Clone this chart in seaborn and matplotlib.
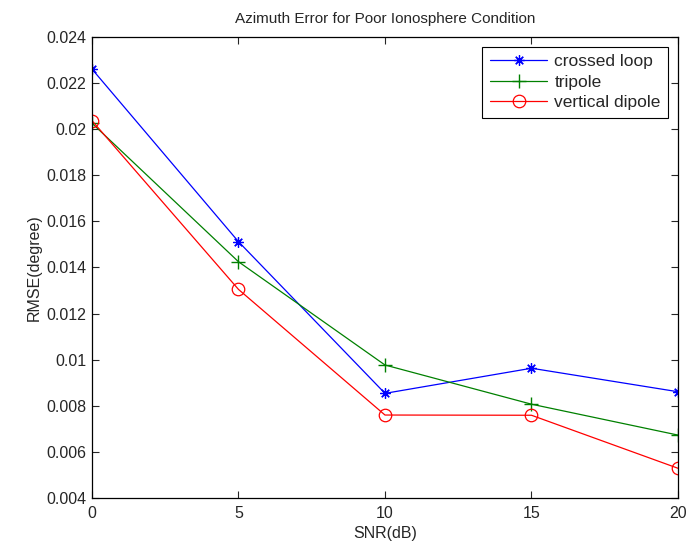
import matplotlib
matplotlib.use("Agg")
import matplotlib.pyplot as plt
import seaborn as sns
import pandas as pd

snr = [0, 5, 10, 15, 20]
crossed_loop = [0.02261, 0.01512, 0.00854, 0.00963, 0.00861]
tripole = [0.02026, 0.01425, 0.00977, 0.00807, 0.00673]
vertical_dipole = [0.02037, 0.01305, 0.00760, 0.00759, 0.00529]
series_names = ["crossed loop", "tripole", "vertical dipole"]

sns.set_style("white")
plt.rcParams["font.family"] = ["Liberation Sans", "DejaVu Sans"]
plt.rcParams["xtick.direction"] = "in"
plt.rcParams["ytick.direction"] = "in"

fig = plt.figure(figsize=(6.9, 5.52), dpi=100)
ax = fig.add_axes([0.1333, 0.0978, 0.8493, 0.8352])

styles = {
    "crossed loop": dict(color="#0000ff", marker=(8, 2, 0), ms=7.5, mfc="none", mec="#0000ff", mew=0.9),
    "tripole": dict(color="#008000", marker="+", ms=10, mfc="none", mec="#008000", mew=1.0),
    "vertical dipole": dict(color="#ff0000", marker="o", ms=9, mfc="none", mec="#ff0000", mew=0.9),
}
for name, vals in zip(series_names, [crossed_loop, tripole, vertical_dipole]):
    df = pd.DataFrame({"SNR": snr, "RMSE": vals})
    st = dict(styles[name])
    sns.lineplot(data=df, x="SNR", y="RMSE", ax=ax, label=name, lw=0.9,
                 markeredgewidth=st.pop("mew"), **st)

ax.set_xlim(0, 20)
ax.set_ylim(0.004, 0.024)
ax.set_xticks([0, 5, 10, 15, 20])
ax.set_yticks([0.004, 0.006, 0.008, 0.01, 0.012, 0.014, 0.016, 0.018, 0.02, 0.022, 0.024])
ax.set_yticklabels(["0.004", "0.006", "0.008", "0.01", "0.012", "0.014", "0.016",
                    "0.018", "0.02", "0.022", "0.024"])
ax.tick_params(axis="both", labelsize=11.5, length=5, width=0.8, top=True, right=True,
               bottom=True, left=True)
ax.tick_params(axis="x", pad=6)
ax.tick_params(axis="y", pad=4)
for s in ax.spines.values():
    s.set_visible(True)
    s.set_color("black")
    s.set_linewidth(0.9)

ax.set_xlabel("SNR(dB)", fontsize=11.5, labelpad=3)
ax.set_ylabel("RMSE(degree)", fontsize=11.5, labelpad=3)
ax.set_title("Azimuth Error for Poor Ionosphere Condition", fontsize=11, pad=10)

leg = ax.legend(loc="upper right", fontsize=12.5, frameon=True, fancybox=False,
                edgecolor="black", framealpha=1, borderaxespad=0.55,
                handlelength=3.3, labelspacing=0.3, borderpad=0.45, handletextpad=0.4)
leg.get_frame().set_linewidth(0.8)

fig.savefig("out.png", dpi=100)
